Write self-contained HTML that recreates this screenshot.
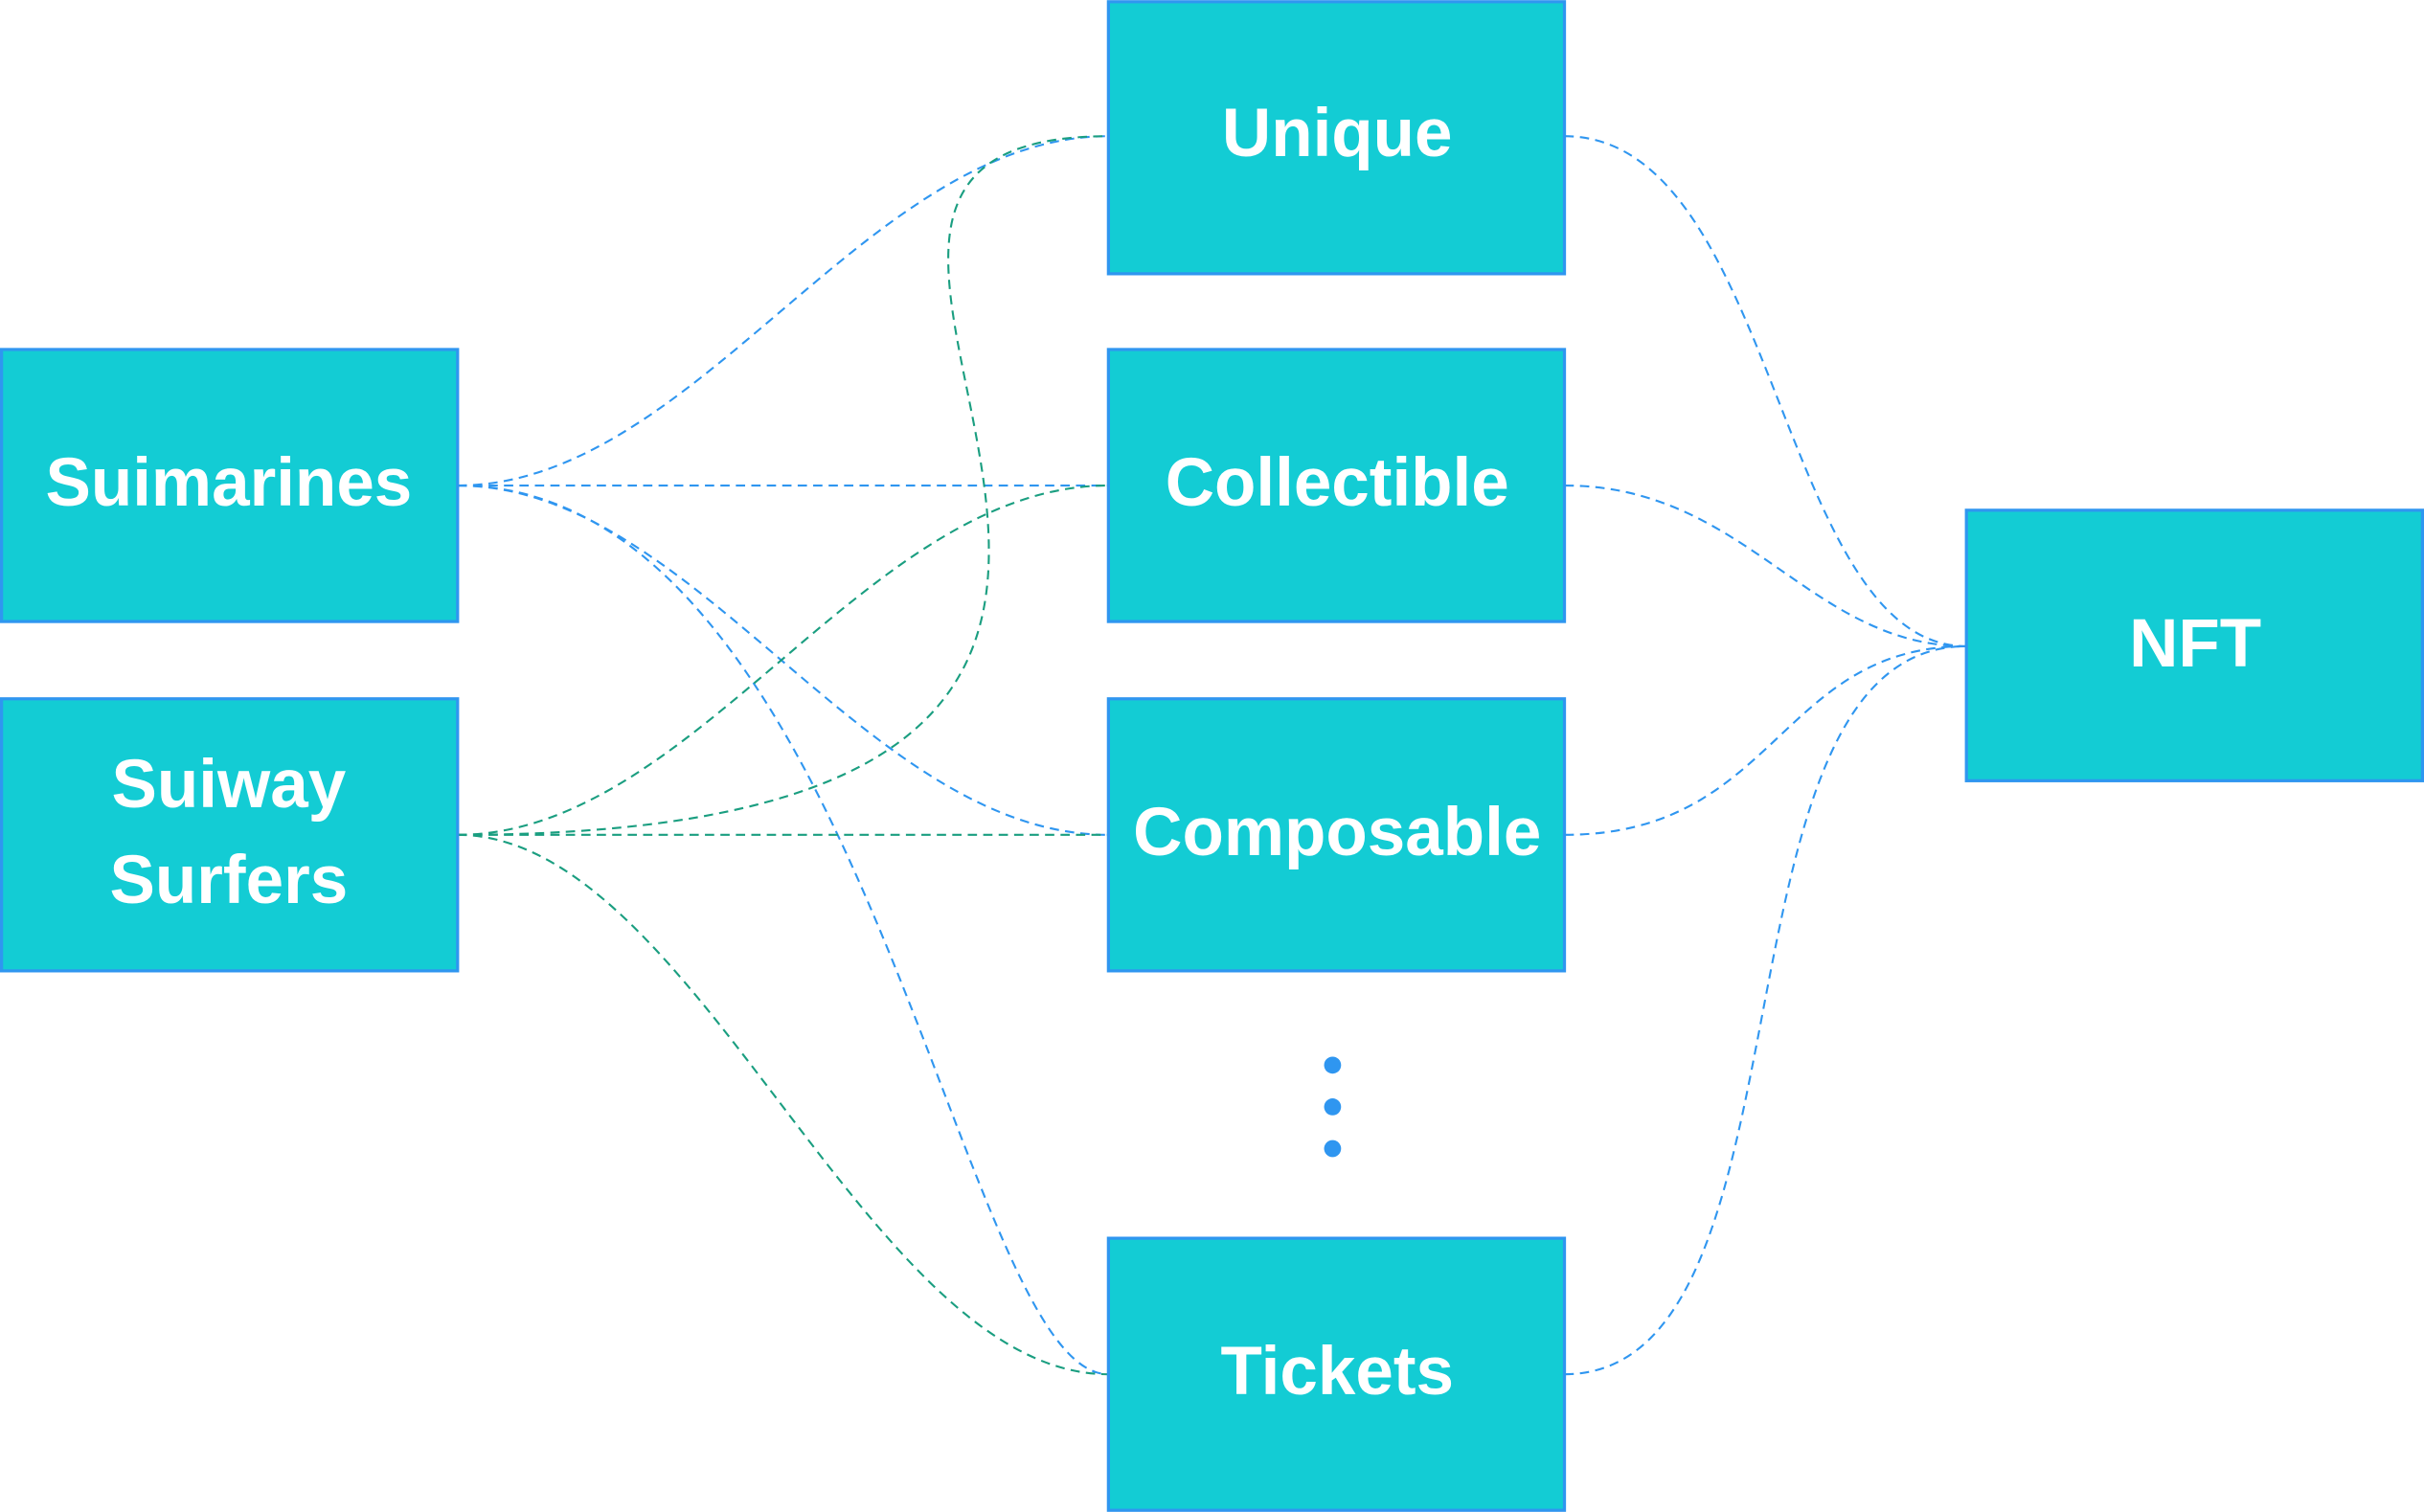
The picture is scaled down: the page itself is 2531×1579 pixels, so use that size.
<!DOCTYPE html>
<html><head><meta charset="utf-8"><style>
html,body{margin:0;padding:0;background:#fff;width:2531px;height:1579px;overflow:hidden}
svg{display:block}
text{font-family:"Liberation Sans",sans-serif;font-weight:bold;fill:#fff;font-size:44px;text-anchor:middle}
</style></head><body>
<svg width="2531" height="1579" viewBox="0 0 1568 978" xmlns="http://www.w3.org/2000/svg">
<g fill="none" stroke-width="1.3" stroke-dasharray="6 4">
<g stroke="#2f96f0">
<path d="M296,314 C450,314 560,88 717,88"/>
<path d="M296,314 L717,314"/>
<path d="M296,314 C450,314 560,540 717,540"/>
<path d="M296,314 C560,314 620,889 717,889"/>
<path d="M1012,88 C1150,88 1150,418 1272,418"/>
<path d="M1012,314 C1130,314 1170,418 1272,418"/>
<path d="M1012,540 C1150,540 1150,418 1272,418"/>
<path d="M1012,889 C1180,889 1100,418 1272,418"/>
</g>
<g stroke="#1a9e80">
<path d="M296,540 C950,540 410,88 717,88"/>
<path d="M296,540 C450,540 560,314 717,314"/>
<path d="M296,540 L717,540"/>
<path d="M296,540 C450,540 560,889 717,889"/>
</g>
</g>
<g fill="#13ccd4" stroke="#2f96f0" stroke-width="2">
<rect x="1" y="226" width="295" height="176"/>
<rect x="1" y="452" width="295" height="176"/>
<rect x="717" y="1" width="295" height="176"/>
<rect x="717" y="226" width="295" height="176"/>
<rect x="717" y="452" width="295" height="176"/>
<rect x="717" y="801" width="295" height="176"/>
<rect x="1272" y="330" width="295" height="175"/>
</g>
<text x="148" y="327">Suimarines</text>
<text x="148" y="522">Suiway</text>
<text x="148" y="584">Surfers</text>
<text x="865" y="101">Unique</text>
<text x="865" y="327">Collectible</text>
<text x="865" y="553">Composable</text>
<text x="865" y="902">Tickets</text>
<text x="1420" y="431">NFT</text>
<g fill="#2f96f0">
<circle cx="862" cy="689" r="5.5"/>
<circle cx="862" cy="716" r="5.5"/>
<circle cx="862" cy="743" r="5.5"/>
</g>
</svg>
</body></html>
